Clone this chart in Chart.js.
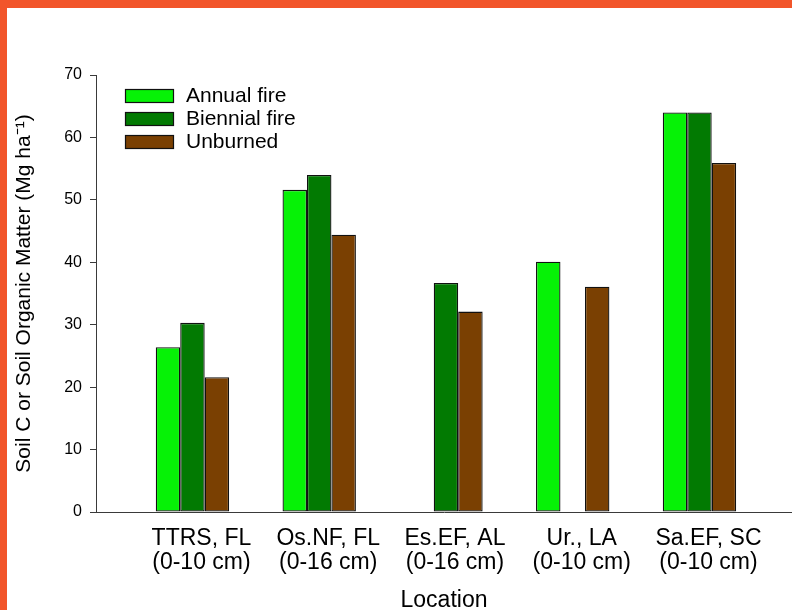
<!DOCTYPE html>
<html>
<head>
<meta charset="utf-8">
<script src="https://cdn.jsdelivr.net/npm/chart.js@4.4.1/dist/chart.umd.min.js"></script>
<style>
  html, body { margin: 0; padding: 0; background: #fff; }
  #wrap { position: relative; width: 792px; height: 610px; overflow: hidden; background: #fff; }
  #c { position: absolute; left: 0; top: 0; }
  .edge { position: absolute; background: #F2552A; }
</style>
</head>
<body>
<div id="wrap">
  <canvas id="c" width="792" height="610"></canvas>
  <div class="edge" style="left:0;top:0;width:792px;height:8px;"></div>
  <div class="edge" style="left:0;top:0;width:7px;height:610px;"></div>
</div>
<script>
// ---- data ----
const categories = ['TTRS, FL', 'Os.NF, FL', 'Es.EF, AL', 'Ur., LA', 'Sa.EF, SC'];
const depths = ['(0-10 cm)', '(0-16 cm)', '(0-16 cm)', '(0-10 cm)', '(0-10 cm)'];
const seriesNames = ['Annual fire', 'Biennial fire', 'Unburned'];
const annualFire = [26.4, 51.6, null, 40.1, 64.0];
const biennialFire = [30.3, 54.0, 36.7, null, 64.0];
const unburned = [21.6, 44.4, 32.1, 36.1, 55.9];
const yTickValues = [0, 10, 20, 30, 40, 50, 60, 70];
const yTitle = 'Soil C or Soil Organic Matter (Mg ha\u207B\u00B9)';
const xTitle = 'Location';

// ---- styles ----
const colors = ['#06F206', '#027A02', '#7A4002'];
const FONT = '"Liberation Sans", Arial, sans-serif';

const toPoints = arr => arr.map((v, i) => ({ x: i, y: v }));
const seriesValues = [annualFire, biennialFire, unburned];

const datasets = seriesValues.map((vals, k) => ({
  label: seriesNames[k],
  data: toPoints(vals),
  backgroundColor: colors[k],
  borderColor: '#111',
  borderWidth: 1.3,
  borderSkipped: false,
  barPercentage: 1.0,
  categoryPercentage: 0.579
}));

const legendPlugin = {
  id: 'insideLegend',
  afterDraw(chart) {
    const ctx = chart.ctx;
    ctx.save();
    chart.data.datasets.forEach((ds, i) => {
      const y = 89 + i * 23;
      ctx.fillStyle = ds.backgroundColor;
      ctx.fillRect(125.5, y + 0.5, 48, 13);
      ctx.strokeStyle = '#111';
      ctx.lineWidth = 1.2;
      ctx.strokeRect(125.5, y + 0.5, 48, 13);
      ctx.fillStyle = '#000';
      ctx.font = '21px ' + FONT;
      ctx.textBaseline = 'middle';
      ctx.textAlign = 'left';
      ctx.fillText(ds.label, 186, y + 7.5);
    });
    ctx.restore();
  }
};

const axisColor = '#3a3a3a';

new Chart(document.getElementById('c'), {
  type: 'bar',
  data: { datasets },
  options: {
    responsive: false,
    animation: false,
    devicePixelRatio: 1,
    layout: { padding: { top: 75, left: 0, right: 0, bottom: 0 } },
    plugins: { legend: { display: false }, tooltip: { enabled: false } },
    scales: {
      x: {
        type: 'linear',
        position: 'bottom',
        min: -0.761,
        max: 4.73,
        offset: false,
        afterBuildTicks: axis => { axis.ticks = categories.map((_, i) => ({ value: i })); },
        afterFit: axis => { axis.height = 98; },
        grid: { display: true, drawOnChartArea: false, drawTicks: false },
        border: { display: true, color: axisColor, width: 1 },
        ticks: {
          autoSkip: false,
          maxRotation: 0,
          minRotation: 0,
          padding: 15,
          labelOffset: 9,
          color: '#000',
          font: { family: FONT, size: 23, lineHeight: 1.04 },
          callback: v => [categories[v], depths[v]]
        },
        title: {
          display: true,
          text: xTitle,
          color: '#000',
          font: { family: FONT, size: 23, lineHeight: 0.78 },
          padding: 0
        }
      },
      y: {
        min: 0,
        max: 70,
        afterBuildTicks: axis => { axis.ticks = yTickValues.map(v => ({ value: v })); },
        afterFit: axis => { axis.width = 96; },
        grid: { drawOnChartArea: false, drawTicks: true, tickLength: 6, color: axisColor },
        border: { display: true, color: axisColor, width: 1 },
        ticks: {
          padding: 8,
          color: '#000',
          font: { family: FONT, size: 16 }
        },
        title: {
          display: true,
          text: yTitle,
          color: '#000',
          font: { family: FONT, size: 21, lineHeight: 1.2 },
          padding: { top: 12, bottom: 0 }
        }
      }
    }
  },
  plugins: [legendPlugin]
});
</script>
</body>
</html>
